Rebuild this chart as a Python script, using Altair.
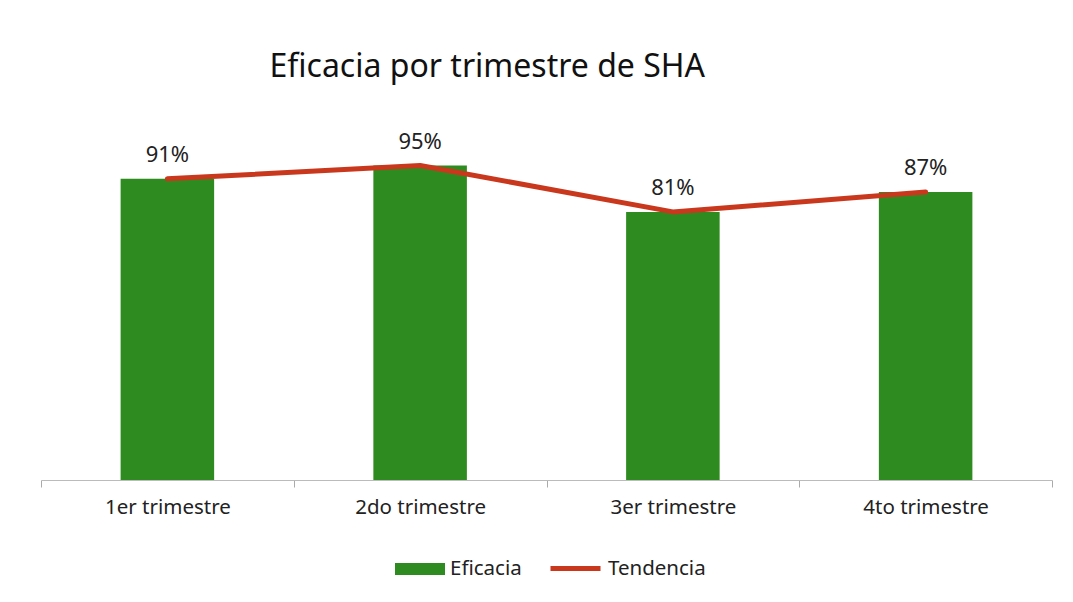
import altair as alt
import pandas as pd

categories = ["1er trimestre", "2do trimestre", "3er trimestre", "4to trimestre"]
eficacia = [91, 95, 81, 87]
tendencia = [91, 95, 81, 87]

df = pd.DataFrame({
    "trimestre": categories,
    "eficacia": eficacia,
    "tendencia": tendencia,
    "s1": ["Eficacia"] * 4,
    "s2": ["Tendencia"] * 4,
})

GREEN = "#2e8b1f"
RED = "#c9381d"
FONT = "Noto Sans"

x = alt.X("trimestre:N", sort=categories, title=None,
          scale=alt.Scale(paddingInner=0, paddingOuter=0),
          axis=alt.Axis(labelAngle=0, labelFontSize=20.5, labelColor="#222",
                        labelFont=FONT, labelPadding=10, tickBand="extent",
                        tickSize=7, tickColor="#aaa", domainColor="#bbb",
                        domainWidth=1.2, grid=False))
yscale = alt.Scale(domain=[0, 100])

base = alt.Chart(df)

bars = base.mark_bar(width={"band": 0.37}).encode(
    x=x,
    y=alt.Y("eficacia:Q", scale=yscale, axis=None),
    fill=alt.Fill("s1:N", scale=alt.Scale(domain=["Eficacia"], range=[GREEN]),
                  legend=alt.Legend(orient="none", legendX=354, legendY=395,
                                    title=None, direction="horizontal",
                                    symbolType="M-1,-0.24H1V0.24H-1Z",
                                    symbolSize=2500, symbolStrokeWidth=0,
                                    labelFontSize=20.5, labelFont=FONT,
                                    labelColor="#222", labelOffset=5,
                                    padding=0)),
)

line = base.mark_line(strokeWidth=5, strokeCap="round", strokeJoin="round").encode(
    x=x,
    y=alt.Y("tendencia:Q", scale=yscale, axis=None),
    stroke=alt.Stroke("s2:N", scale=alt.Scale(domain=["Tendencia"], range=[RED]),
                      legend=alt.Legend(orient="none", legendX=507, legendY=392,
                                        title=None, direction="horizontal",
                                        symbolType="stroke", symbolSize=2500,
                                        symbolStrokeWidth=5,
                                        labelFontSize=20.5, labelFont=FONT,
                                        labelColor="#222", labelOffset=5,
                                        padding=0)),
)

labels = base.transform_calculate(lbl="datum.eficacia + '%'").mark_text(
    baseline="bottom", dy=-12, fontSize=22, font=FONT, color="#222"
).encode(
    x=x,
    y=alt.Y("eficacia:Q", scale=yscale, axis=None),
    text="lbl:N",
)

chart = alt.layer(bars, line, labels).properties(
    width=1011,
    height=331,
    padding={"left": 33, "top": 141, "right": 10, "bottom": 110},
    autosize=alt.AutoSizeParams(type="none"),
    title=alt.TitleParams("Eficacia por trimestre de SHA", anchor="start",
                          dx=229, fontSize=32, font=FONT, fontWeight="normal",
                          color="#111", baseline="alphabetic", offset=22),
).configure(background="white").configure_view(stroke=None)

chart.save("out.html", embed_options={"renderer": "svg", "actions": False})
